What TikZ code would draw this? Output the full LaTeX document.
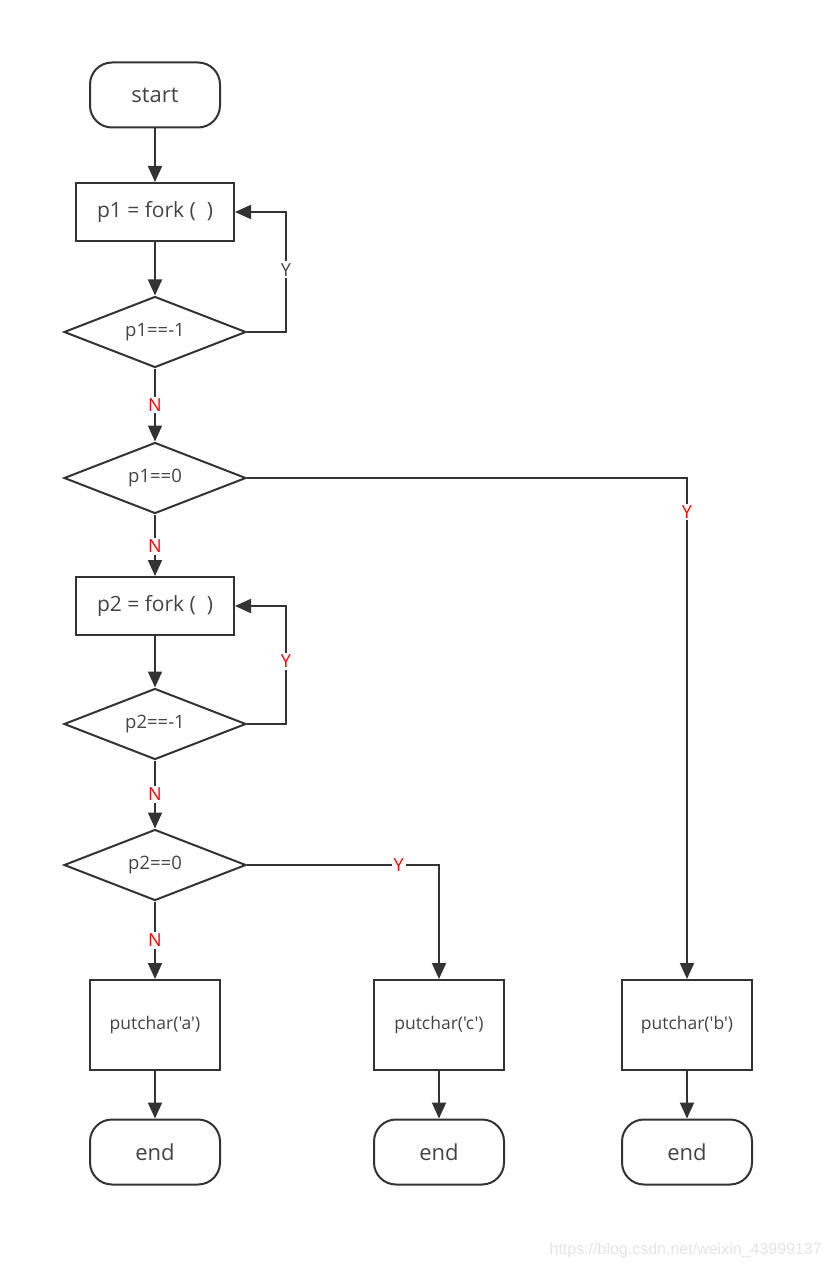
\documentclass[tikz,border=0pt]{standalone}
\usepackage{fontspec}
\setmainfont{Open Sans}
\newfontfamily\ofont{Open Sans}
\newfontfamily\wmfont{Liberation Sans}
\usetikzlibrary{shapes.geometric,arrows.meta}
\definecolor{ln}{HTML}{333333}
\definecolor{tx}{HTML}{444444}
\definecolor{wm}{HTML}{E4E4E4}
\tikzset{
  base/.style={draw=ln,line width=2pt,text=tx,inner sep=0pt,align=center},
  term/.style={base,rounded corners=22pt,minimum width=130pt,minimum height=65pt,font=\ofont\fontsize{22}{26}\selectfont},
  proc/.style={base,minimum width=158pt,minimum height=58pt,font=\ofont\fontsize{21}{25}\selectfont},
  outbox/.style={base,minimum width=130pt,minimum height=90pt,font=\ofont\fontsize{17.5}{21}\selectfont},
  decide/.style={base,diamond,aspect=2.6,minimum width=182pt,minimum height=71pt,font=\ofont\fontsize{18.5}{22}\selectfont},
  conn/.style={draw=ln,line width=2pt,-{Triangle[length=16pt,width=14pt]}},
  lab/.style={fill=white,inner sep=2pt,font=\ofont\fontsize{18}{20}\selectfont},
  ylab/.style={lab,text=red},
  glab/.style={lab,text=tx},
}
\begin{document}
\begin{tikzpicture}[x=1pt,y=-1pt]
\useasboundingbox (0,0) rectangle (832,1268);
\node[term] (start) at (155,95) {start};
\node[proc] (f1) at (155,212) {p1 = fork (\ \ )};
\node[decide] (d1) at (155,332) {p1==-1};
\node[decide] (d2) at (155,478) {p1==0};
\node[proc] (f2) at (155,606) {p2 = fork (\ \ )};
\node[decide] (d3) at (155,724) {p2==-1};
\node[decide] (d4) at (155,865) {p2==0};
\node[outbox] (pa) at (155,1025) {putchar('a')};
\node[outbox] (pc) at (439,1025) {putchar('c')};
\node[outbox] (pb) at (687,1025) {putchar('b')};
\node[term] (ea) at (155,1152) {end};
\node[term] (ec) at (439,1152) {end};
\node[term] (eb) at (687,1152) {end};

\coordinate (c1a) at (286,332);
\coordinate (c1b) at (286,212);
\coordinate (c2) at (687,478);
\coordinate (c3a) at (286,724);
\coordinate (c3b) at (286,606);
\coordinate (c4) at (439,865);

\draw[conn] (start) -- (f1);
\draw[conn] (f1) -- (d1);
\draw[conn] (d1.east) -- (c1a) -- node[glab,pos=0.52]{Y} (c1b) -- (f1.east);
\draw[conn] (d1) -- node[ylab,pos=0.5]{N} (d2);
\draw[conn] (d2.east) -- (c2) -- node[ylab,pos=0.068]{Y} (pb.north);
\draw[conn] (d2) -- node[ylab,pos=0.52]{N} (f2);
\draw[conn] (f2) -- (d3);
\draw[conn] (d3.east) -- (c3a) -- node[ylab,pos=0.53]{Y} (c3b) -- (f2.east);
\draw[conn] (d3) -- node[ylab,pos=0.5]{N} (d4);
\draw[conn] (d4.east) -- node[ylab,pos=0.79]{Y} (c4) -- (pc.north);
\draw[conn] (d4) -- node[ylab,pos=0.5]{N} (pa);
\draw[conn] (pa) -- (ea);
\draw[conn] (pc) -- (ec);
\draw[conn] (pb) -- (eb);

\node[anchor=east,text=wm,font=\wmfont\fontsize{16}{18}\selectfont,inner sep=0pt] (wmark) at (822,1250) {https://blog.csdn.net/weixin\_43999137};
\end{tikzpicture}
\end{document}
